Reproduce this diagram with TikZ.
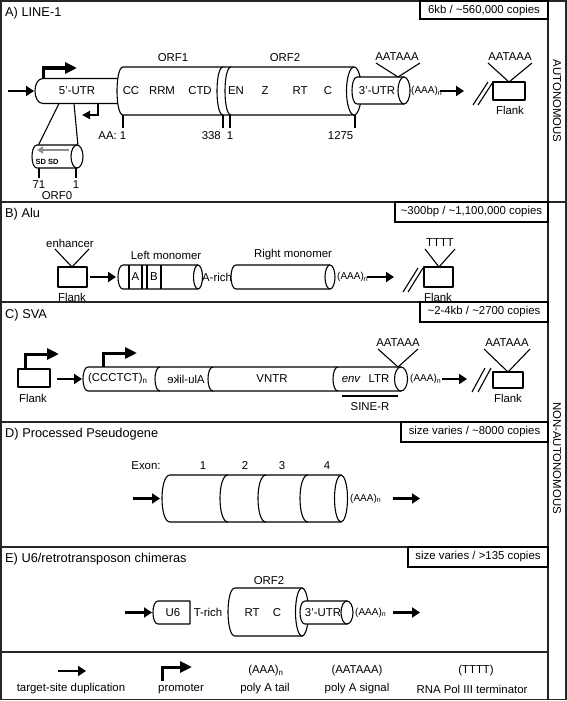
\documentclass[tikz,border=0pt]{standalone}
\usepackage{fontspec}
\setmainfont{Liberation Sans}
\usetikzlibrary{arrows.meta}
\newcommand\cylbody[5]{\filldraw[shp] ({#1+#5},#3) -- (#2,#3) -- (#2,#4) -- ({#1+#5},#4) .. controls ({#1-0.3333*#5},#4) and ({#1-0.3333*#5},#3) .. cycle;}
\newcommand\cylend[4]{\filldraw[shp] (#1,#2) ellipse [x radius=#3, y radius=#4];}
\newcommand\parenc[4]{\draw[ln] (#1,#2) .. controls ({#1-1.3333*#4},#2) and ({#1-1.3333*#4},#3) .. (#1,#3);}
\begin{document}
\begin{tikzpicture}[x=1pt,y=-1pt,
  every node/.style={font=\fontsize{11.4}{13}\selectfont, inner sep=0pt},
  ttl/.style={anchor=west, font=\fontsize{12.8}{15}\selectfont},
  shp/.style={draw=black, line width=1.1pt, fill=white, line join=round},
  ln/.style={draw=black, line width=1.1pt},
  tick/.style={draw=black, line width=1.8pt},
  frm/.style={draw=black!85, line width=1.8pt},
  tsd/.style={draw=black, line width=2.2pt, -{Triangle[length=8pt,width=10pt]}},
  prom/.style={draw=black, line width=3pt, -{Triangle[length=12pt,width=11pt]}},
  aaa/.style={anchor=west, font=\fontsize{10}{12}\selectfont},
]
\useasboundingbox (0,0) rectangle (567,701);
\fill[white] (0,0) rectangle (567,701);
% ---------------- frame
\draw[frm] (1,1) rectangle (566,699.5);
\draw[frm] (548,1) -- (548,699.5);
\draw[frm] (1,202) -- (566,202);
\draw[frm] (1,302) -- (548,302);
\draw[frm] (1,422) -- (548,422);
\draw[frm] (1,547) -- (548,547);
\draw[frm] (1,652) -- (548,652);
\node[rotate=-90] (auto) at (557,101) {AUTONOMOUS};
\node[rotate=-90] (nonauto) at (557,458) {NON-AUTONOMOUS};
% ---------------- A) LINE-1
\node[ttl] (tA) at (5,13) {A) LINE-1};
\draw[ln] (420,1) rectangle (548,19);
\node (iA) at (484,10.5) {6kb / {\char"7E}560,000 copies};
\draw[tsd] (8,91) -- (34,91);
\filldraw[shp] (43,78.5) -- (121,78.5) -- (121,103.5) -- (43,103.5) .. controls (32.3,103.5) and (32.3,78.5) .. cycle;
\node (utr5) at (77,91) {5'-UTR};
\draw[prom] (43,78.5) -- (43,68) -- (77,68);
\draw[draw=black, line width=2pt, -{Triangle[length=8pt,width=8pt]}] (98,103.5) -- (98,115) -- (82,115);
% ORF1/ORF2 cylinder
\cylbody{117}{354}{67}{115}{6}
\parenc{223}{67}{115}{6}
\parenc{231}{67}{115}{6}
\cylend{354}{91}{7.5}{24}
% 3'UTR
\cylbody{352}{404}{77}{104}{5}
\cylend{404}{90.5}{6}{13.5}
\node (utr3) at (377,91) {3'-UTR};
\node (orf1) at (173,58) {ORF1};
\node (orf2) at (285,58) {ORF2};
\node at (131,91) {CC};
\node at (162,91) {RRM};
\node at (200,91) {CTD};
\node at (236,91) {EN};
\node at (265,91) {Z};
\node at (300,91) {RT};
\node at (328,91) {C};
\draw[tick] (123,115) -- (123,128);
\draw[tick] (223,115) -- (223,128);
\draw[tick] (230,115) -- (230,128);
\draw[tick] (355,115) -- (355,128);
\node[anchor=east] at (126.5,136) {AA: 1};
\node[anchor=east] at (221,136) {338};
\node at (230,136) {1};
\node[anchor=east] at (353.5,136) {1275};
\node (pa1) at (397,57) {AATAAA};
\draw[ln] (376,63) -- (398,77) -- (420,63);
\node[aaa] at (411,91) {(AAA)\textsubscript{n}};
\draw[tsd] (440,91) -- (464,91);
\draw[ln] (473,105) -- (488,82);
\draw[ln] (478,105) -- (493,82);
\draw[shp] (493,82) rectangle (525,100);
\node at (510,110) {Flank};
\node (pa2) at (510,57) {AATAAA};
\draw[ln] (488,63) -- (509,82) -- (532,63);
% ORF0 inset
\draw[ln] (59,103.5) -- (38,146);
\draw[ln] (74,103.5) -- (78,146);
\cylbody{32}{77}{145}{168}{5}
\cylend{77}{156.5}{6}{11.5}
\draw[line width=2.2pt, black!45, -{Triangle[length=6pt,width=7pt]}] (69,150) -- (37,150);
\node[font=\fontsize{7.5}{8}\selectfont\bfseries] at (47,162) {SD SD};
\draw[tick] (39,168) -- (39,178);
\draw[tick] (76,168) -- (76,178);
\node at (39,185) {71};
\node at (76,185) {1};
\node (orf0) at (57,196) {ORF0};
% ---------------- B) Alu
\node[ttl] (tB) at (5,214) {B) Alu};
\draw[ln] (395,202) rectangle (548,222);
\node at (471.5,212) {{\char"7E}300bp / {\char"7E}1,100,000 copies};
\node at (70,243) {enhancer};
\draw[ln] (55,249) -- (72,267) -- (89,249);
\draw[shp] (58,267) rectangle (87,287);
\node at (72,297) {Flank};
\draw[tsd] (90,277) -- (116,277);
\cylbody{118}{198}{265}{289}{5}
\cylend{198}{277}{4.5}{12}
\draw[ln] (129,265) -- (129,289);
\draw[ln] (142,265) -- (142,289);
\draw[ln] (147,265) -- (147,289);
\draw[ln] (161,265) -- (161,289);
\node at (135.5,277) {A};
\node at (154,277) {B};
\node at (166,255) {Left monomer};
\node at (217,277) {A-rich};
\cylbody{231}{330}{265}{289}{5}
\cylend{330}{277}{5}{12}
\node at (293,255) {Right monomer};
\node[aaa] at (337,277) {(AAA)\textsubscript{n}};
\draw[tsd] (367,277) -- (394,277);
\draw[ln] (403,292) -- (418,268);
\draw[ln] (408,292) -- (423,268);
\draw[shp] (424,267) rectangle (453,287);
\node at (438,297) {Flank};
\node at (440,243) {TTTT};
\draw[ln] (425,249) -- (439,267) -- (455,249);
% ---------------- C) SVA
\node[ttl] (tC) at (5,315) {C) SVA};
\draw[ln] (420,302) rectangle (548,322);
\node at (484,312) {{\char"7E}2-4kb / {\char"7E}2700 copies};
\draw[shp] (18,369) rectangle (50,387);
\node at (33,398) {Flank};
\draw[prom] (25,369) -- (25,354) -- (59,354);
\draw[tsd] (57,379) -- (82,379);
\cylbody{83}{401}{367}{391}{5}
\parenc{160}{367}{391}{5}
\parenc{213}{367}{391}{5}
\parenc{338}{367}{391}{5}
\cylend{401}{379}{6.5}{12}
\draw[prom] (103,367) -- (103,353) -- (137,353);
\node[aaa] at (88,379) {\fontsize{11.4}{13}\selectfont(CCCTCT)\textsubscript{n}};
\node[xscale=-1] at (186,379) {Alu-like};
\node at (272,379) {VNTR};
\node at (351,379) {\itshape env};
\node at (379,379) {LTR};
\draw[ln] (342,396) -- (398,396);
\node at (370,407) {SINE-R};
\node at (398,343) {AATAAA};
\draw[ln] (378,349) -- (398,367) -- (418,349);
\node[aaa] at (410,379) {(AAA)\textsubscript{n}};
\draw[tsd] (442,379) -- (467,379);
\draw[ln] (472,392) -- (485,368);
\draw[ln] (478,392) -- (491,368);
\draw[shp] (493,372) rectangle (523,388);
\node at (508,398) {Flank};
\node at (507,343) {AATAAA};
\draw[ln] (484,349) -- (508,372) -- (530,349);
% ---------------- D) Processed pseudogene
\node[ttl] (tD) at (5,434) {D) Processed Pseudogene};
\draw[ln] (401,422) rectangle (548,442);
\node at (474.5,432) {size varies / {\char"7E}8000 copies};
\node at (146,466) {Exon:};
\node at (203,466) {1};
\node at (245,466) {2};
\node at (282,466) {3};
\node at (327,466) {4};
\draw[tsd] (133,498.5) -- (160,498.5);
\cylbody{162}{341}{475}{522}{8}
\parenc{228}{475}{522}{8}
\parenc{266}{475}{522}{8}
\parenc{308}{475}{522}{8}
\cylend{341}{498.5}{6.5}{23.5}
\node[aaa] at (350,498.5) {(AAA)\textsubscript{n}};
\draw[tsd] (393,498.5) -- (420,498.5);
% ---------------- E) U6 chimeras
\node[ttl] (tE) at (5,559) {E) U6/retrotransposon chimeras};
\draw[ln] (408,547) rectangle (548,567);
\node at (478,557) {size varies / {\char"3E}135 copies};
\node at (269,581) {ORF2};
\draw[tsd] (125,612.5) -- (152,612.5);
\filldraw[shp] (158,601) -- (190,601) -- (190,624) -- (158,624) .. controls (151.3,624) and (151.3,601) .. cycle;
\node at (173,612.5) {U6};
\node at (208,612.5) {T-rich};
\cylbody{228}{302}{588}{636}{7}
\cylend{302}{612}{6.5}{24}
\node at (252,612.5) {RT};
\node at (277,612.5) {C};
\cylbody{300}{347}{601}{624}{5}
\cylend{347}{612.5}{6}{11.5}
\node at (323,612.5) {3'-UTR};
\node[aaa] at (355,612.5) {(AAA)\textsubscript{n}};
\draw[tsd] (393,612.5) -- (420,612.5);
% ---------------- legend
\draw[tsd] (58,671) -- (86,671);
\draw[prom] (162,681) -- (162,667) -- (192,667);
\node at (266,671) {(AAA)\textsubscript{n}};
\node at (357,671) {(AATAAA)};
\node at (476,671) {(TTTT)};
\node at (71,689) {target-site duplication};
\node at (181,689) {promoter};
\node at (265,689) {poly A tail};
\node at (357,689) {poly A signal};
\node at (472,689) {RNA Pol III terminator};
\end{tikzpicture}
\end{document}
